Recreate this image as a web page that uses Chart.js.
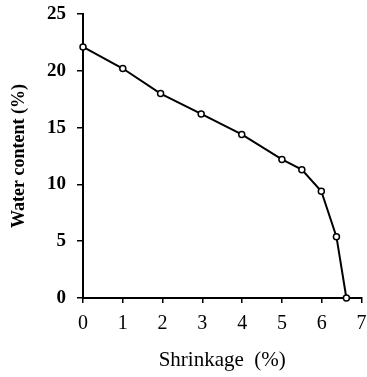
<!DOCTYPE html>
<html>
<head>
<meta charset="utf-8">
<script src="https://cdn.jsdelivr.net/npm/chart.js@4"></script>
<style>
    html, body { margin: 0; padding: 0; background: #fff; }
    #wrap { width: 367px; height: 377px; }
</style>
</head>
<body>
<div id="wrap"><canvas id="shrinkChart"></canvas></div>
<script>
    // Data
    var shrinkage = [0, 1, 1.95, 2.97, 3.99, 5, 5.5, 5.99, 6.37, 6.62];
    var waterContent = [22.1, 20.2, 18, 16.2, 14.4, 12.2, 11.3, 9.4, 5.4, 0];
    var xTicks = [0, 1, 2, 3, 4, 5, 6, 7];
    var yTicks = [0, 5, 10, 15, 20, 25];

    var points = shrinkage.map(function (x, i) {
        return { x: x, y: waterContent[i] };
    });

    var serif = "'Liberation Serif', 'Times New Roman', serif";

    var ctx = document.getElementById("shrinkChart").getContext("2d");
    var chart = new Chart(ctx, {
        type: "scatter",
        data: {
            datasets: [{
                data: points,
                showLine: true,
                borderColor: "#000",
                borderWidth: 2,
                pointRadius: 3,
                pointBorderWidth: 1.5,
                pointBackgroundColor: "#fff",
                pointBorderColor: "#000",
                clip: false
            }]
        },
        options: {
            responsive: true,
            maintainAspectRatio: false,
            animation: false,
            layout: {
                padding: { top: 14, right: 5, left: 0, bottom: 0 }
            },
            plugins: {
                legend: { display: false },
                tooltip: { enabled: false }
            },
            scales: {
                x: {
                    type: "linear",
                    min: 0,
                    max: 7,
                    afterBuildTicks: function (scale) {
                        scale.ticks = xTicks.map(function (v) { return { value: v }; });
                    },
                    afterFit: function (scale) {
                        // fixed box so the plot area matches the figure
                        scale.height = 79;
                        scale.paddingLeft = 0;
                        scale.paddingRight = 0;
                    },
                    grid: {
                        drawOnChartArea: false,
                        color: "#000",
                        tickLength: 5,
                        lineWidth: 1.5
                    },
                    border: { display: true, color: "#000", width: 2 },
                    ticks: {
                        color: "#000",
                        padding: 9,
                        maxRotation: 0,
                        font: { family: serif, size: 20 }
                    },
                    title: {
                        display: true,
                        text: "Shrinkage  (%)",
                        color: "#000",
                        padding: { top: 8 },
                        font: { family: serif, size: 21 }
                    }
                },
                y: {
                    type: "linear",
                    min: 0,
                    max: 25,
                    afterBuildTicks: function (scale) {
                        scale.ticks = yTicks.map(function (v) { return { value: v }; });
                    },
                    afterFit: function (scale) {
                        scale.width = 83;
                        scale.paddingTop = 0;
                        scale.paddingBottom = 0;
                    },
                    grid: {
                        drawOnChartArea: false,
                        color: "#000",
                        tickLength: 6,
                        lineWidth: 1.5
                    },
                    border: { display: true, color: "#000", width: 2 },
                    ticks: {
                        color: "#000",
                        padding: 11,
                        font: { family: serif, size: 19, weight: "bold" }
                    },
                    title: {
                        display: true,
                        text: "Water content (%)",
                        color: "#000",
                        padding: { top: 9, bottom: 0 },
                        font: { family: serif, size: 18, weight: "bold" }
                    }
                }
            }
        }
    });
</script>
</body>
</html>
